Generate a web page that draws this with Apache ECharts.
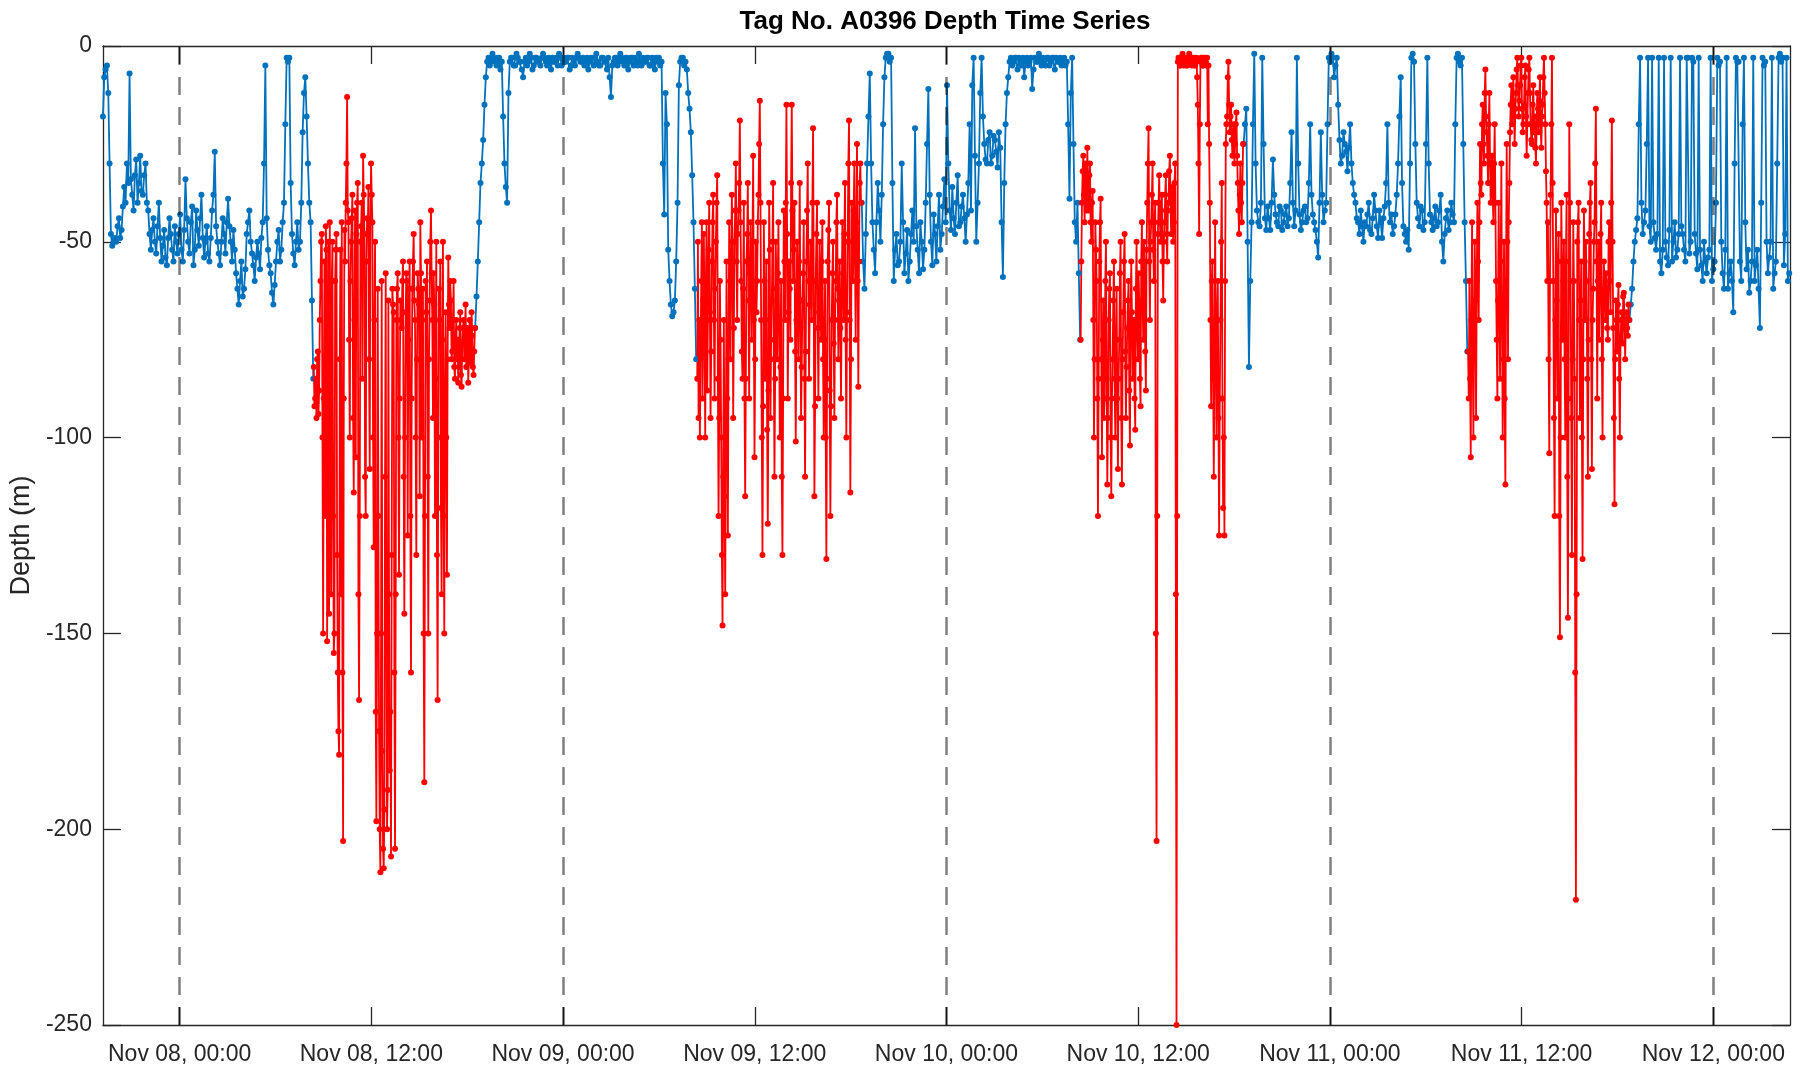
<!DOCTYPE html>
<html>
<head>
<meta charset="utf-8">
<script src="https://cdn.jsdelivr.net/npm/echarts@6/dist/echarts.min.js"></script>
<style>
html,body{margin:0;padding:0;background:#fff;}
#chart{width:1804px;height:1066px;}
</style>
</head>
<body>
<div id="chart"></div>
<script>
// ---------- DATA (depth in metres) ----------
// Time is measured in hours from Nov 08 00:00.
const titleText = 'Tag No. A0396 Depth Time Series';
const xTickHours = [0, 12, 24, 36, 48, 60, 72, 84, 96];   // Nov 08 00:00 ... Nov 12 00:00
const dayLineHours = [0, 24, 48, 72, 96];                 // dashed midnight lines
const axisStartHour = -4.8;
const axisEndHour = 100.8;

// Blue (other periods), sampled every 5 min
const blueA = [-18,-8,-6,-5,-12,-30,-48,-51,-50,-49,-50,-46,-44,-49,-47,-41,-36,-40,-30,-35,
 -7,-34,-38,-42,-33,-29,-40,-35,-28,-37,-38,-33,-30,-40,-42,-48,-52,-47,-44,-50,
 -53,-46,-40,-49,-55,-51,-47,-54,-56,-49,-44,-48,-52,-55,-46,-50,-53,-48,-43,-52,
 -55,-47,-34,-44,-50,-53,-45,-41,-56,-52,-42,-47,-51,-44,-38,-49,-54,-50,-46,-53,
 -55,-49,-42,-38,-27,-46,-50,-53,-56,-50,-44,-48,-53,-45,-39,-46,-50,-55,-47,-52,
 -58,-62,-66,-60,-55,-64,-62,-57,-48,-45,-42,-50,-53,-56,-60,-54,-50,-53,-57,-49,
 -45,-30,-5,-44,-52,-56,-58,-63,-66,-61,-55,-50,-47,-55,-52,-45,-40,-20,-3,-4,
 -3,-35,-48,-53,-56,-50,-45,-52,-50,-40,-22,-12,-8,-18,-30,-40,-45,-65,-85];
const blueB = [-72,-64,-55,-45,-35,-30,-24,-15,-8,-4,-3,-5,-4,-2,-3,-4,-5,-3,-3,-6,
 -4,-18,-30,-36,-40,-12,-4,-3,-3,-5,-5,-2,-3,-4,-4,-6,-8,-4,-3,-5,
 -4,-2,-3,-6,-5,-3,-3,-4,-4,-5,-3,-2,-3,-4,-5,-3,-4,-6,-3,-4,
 -4,-3,-5,-2,-3,-5,-3,-4,-4,-3,-3,-6,-5,-3,-4,-5,-3,-2,-3,-4,
 -4,-3,-5,-4,-3,-6,-4,-3,-3,-5,-3,-2,-4,-5,-5,-3,-3,-4,-4,-6,
 -3,-8,-13,-5,-4,-3,-3,-5,-4,-2,-3,-4,-5,-3,-3,-6,-4,-3,-3,-5,
 -3,-4,-5,-2,-4,-5,-3,-4,-4,-3,-3,-5,-5,-3,-4,-6,-3,-4,-3,-5,
 -4,-30,-43,-12,-20,-52,-60,-66,-69,-68,-65,-55,-40,-10,-4,-3,-3,-5,-4,-6,
 -12,-16,-22,-33,-45,-62,-80];
const blueC = [-40,-55,-62,-48,-30,-18,-7,-30,-45,-52,-58,-45,-35,-42,-50,-38,-20,-8,-3,-2,
 -2,-4,-3,-35,-60,-52,-48,-56,-55,-50,-30,-45,-58,-53,-47,-60,-55,-48,-42,-50,
 -21,-46,-52,-58,-45,-50,-57,-52,-40,-25,-11,-38,-50,-56,-43,-48,-55,-46,-38,-52,
 -48,-41,-34,-45,-10,-30,-42,-47,-36,-44,-48,-40,-33,-46,-45,-41,-38,-44,-50,-43,
 -35,-20,-42,-10,-3,-28,-50,-40,-30,-12,-3,-18,-25,-29,-30,-24,-22,-30,-28,-23,
 -24,-27,-31,-22,-26,-45,-59,-35,-20,-12,-8,-4,-3,-5,-4,-3,-3,-6,-3,-4,
 -5,-3,-8,-4,-3,-5,-4,-3,-11,-6,-3,-4,-4,-2,-3,-5,-3,-4,-5,-3,
 -3,-5,-4,-3,-3,-6,-3,-4,-4,-3,-5,-4,-3,-5,-4,-20,-39,-12,-3,-25,
 -45,-50,-40,-58,-75];
const blueD = [-25,-20,-16,-50,-82,-60,-45,-20,-2,-30,-42,-45,-46,-40,-3,-25,-44,-47,-41,-44,
 -47,-40,-29,-38,-43,-45,-46,-41,-42,-47,-45,-43,-41,-46,-44,-35,-22,-40,-46,-42,
 -3,-30,-43,-47,-45,-42,-41,-45,-44,-35,-20,-38,-43,-45,-47,-50,-54,-40,-22,-38,
 -45,-42,-40,-20,-3,-4,-2,-3,-8,-5,-3,-15,-24,-30,-28,-22,-25,-27,-32,-26,
 -20,-30,-35,-38,-40,-44,-45,-48,-42,-46,-50,-45,-46,-43,-40,-47,-48,-44,-38,-42,
 -46,-49,-42,-45,-49,-44,-41,-35,-20,-40,-45,-43,-48,-46,-43,-38,-30,-18,-8,-35,
 -46,-48,-50,-47,-52,-30,-3,-2,-4,-25,-40,-44,-46,-41,-42,-47,-45,-25,-3,-30,
 -43,-45,-47,-44,-41,-46,-45,-42,-38,-50,-55,-48,-44,-42,-47,-45,-40,-43,-45,-20,
 -3,-2,-4,-5,-3,-25,-45,-60,-78];
const blueE = [-70,-66,-62,-55,-50,-47,-44,-20,-3,-40,-48,-45,-42,-25,-3,-46,-50,-3,-45,-49,
 -52,-48,-3,-55,-58,-52,-3,-50,-54,-56,-47,-3,-55,-50,-45,-54,-52,-48,-3,-46,
 -48,-52,-55,-3,-3,-53,-50,-3,-4,-48,-53,-57,-3,-52,-56,-60,-50,-55,-58,-54,
 -52,-3,-60,-57,-55,-40,-3,-5,-4,-50,-58,-62,-52,-3,-62,-58,-55,-60,-68,-30,
 -3,-4,-4,-55,-60,-20,-3,-45,-57,-52,-63,-60,-55,-3,-60,-56,-52,-62,-72,-40,
 -3,-5,-4,-50,-58,-54,-50,-3,-62,-58,-55,-30,-3,-2,-4,-3,-56,-48,-3,-60,
 -58];

// Red (highlighted periods), sampled every 2.5 min
const redA = [-82,-92,-90,-85,-95,-80,-78,-94,-88,-70,-60,-50,-48,-100,-150,-90,-55,-120,-46,-52,-152,-110,-50,-145,
 -45,-90,-140,-60,-50,-120,-155,-150,-60,-52,-48,-130,-160,-175,-181,-80,-52,-140,-45,-160,-203,-90,-47,-55,
 -40,-30,-13,-42,-45,-75,-100,-60,-50,-44,-38,-95,-114,-70,-42,-105,-48,-40,-35,-140,-167,-120,-50,-46,
 -40,-85,-28,-38,-48,-110,-120,-55,-44,-48,-36,-80,-108,-45,-30,-38,-45,-100,-128,-70,-50,-170,-198,-150,
 -62,-120,-175,-200,-211,-150,-60,-180,-205,-210,-195,-110,-58,-150,-200,-190,-65,-140,-185,-170,-207,-130,-62,-66,
 -68,-160,-205,-140,-70,-62,-58,-100,-135,-90,-65,-70,-72,-60,-55,-110,-145,-100,-68,-58,-60,-125,-75,-62,
 -55,-120,-160,-90,-62,-55,-48,-65,-70,-100,-130,-80,-58,-62,-66,-115,-45,-58,-100,-70,-62,-150,-188,-120,
 -60,-68,-55,-110,-150,-80,-65,-50,-42,-58,-70,-95,-58,-66,-120,-85,-50,-130,-167,-100,-62,-70,-55,-118,
 -140,-75,-50,-120,-150,-90,-68,-100,-135,-80,-54,-66,-72,-60,-65,-80,-78,-70,-60,-82,-85,-75,-70,-80,
 -75,-86,-82,-72,-68,-84,-87,-76,-72,-70,-80,-74,-66,-82,-78,-72,-86,-80,-70,-79,-81,-68,-74,-82,
 -84,-78,-72];
const redB = [-85,-50,-95,-70,-100,-80,-60,-45,-90,-65,-48,-75,-100,-60,-45,-88,-70,-52,-40,-68,-95,-78,-55,-45,
 -38,-70,-90,-62,-50,-40,-33,-85,-120,-95,-60,-75,-100,-130,-148,-110,-70,-115,-140,-100,-55,-90,-125,-80,
 -45,-60,-80,-55,-38,-50,-95,-72,-50,-42,-30,-55,-70,-48,-42,-35,-19,-45,-60,-78,-85,-62,-40,-90,
 -115,-85,-55,-48,-35,-65,-90,-58,-45,-62,-75,-50,-28,-70,-105,-80,-50,-68,-60,-45,-38,-25,-14,-40,
 -70,-100,-130,-92,-45,-60,-85,-70,-55,-98,-122,-88,-40,-52,-95,-75,-65,-50,-35,-80,-110,-85,-50,-62,
 -80,-58,-45,-72,-100,-82,-60,-110,-130,-90,-42,-55,-70,-40,-15,-48,-90,-68,-55,-62,-75,-35,-15,-42,
 -60,-52,-40,-78,-101,-70,-50,-64,-80,-55,-35,-72,-95,-82,-65,-58,-45,-85,-110,-78,-55,-42,-30,-60,
 -85,-66,-50,-58,-70,-40,-21,-60,-115,-92,-60,-48,-40,-72,-90,-68,-50,-62,-75,-55,-45,-80,-100,-75,
 -60,-100,-131,-85,-55,-47,-40,-88,-120,-92,-70,-58,-50,-76,-95,-70,-60,-45,-38,-62,-80,-65,-55,-72,
 -90,-66,-45,-58,-70,-48,-35,-75,-100,-68,-50,-30,-19,-70,-114,-80,-40,-50,-60,-42,-30,-55,-75,-45,
 -25,-60,-87,-55,-35,-30,-40];
const redC = [-75,-55,-40,-32,-28,-38,-45,-30,-35,-42,-26,-36,-42,-33,-30,-45,-50,-40,-37,-70,-100,-80,-45,-52,
 -60,-90,-120,-85,-55,-45,-39,-80,-105,-75,-65,-95,-90,-60,-50,-85,-112,-95,-70,-62,-58,-100,-115,-90,
 -80,-65,-55,-85,-100,-75,-62,-90,-108,-85,-75,-58,-50,-95,-112,-80,-68,-55,-48,-78,-95,-82,-72,-65,
 -60,-88,-102,-70,-55,-68,-85,-75,-70,-90,-98,-62,-50,-72,-80,-58,-65,-85,-92,-55,-45,-65,-75,-50,
 -55,-78,-88,-52,-40,-30,-21,-55,-70,-50,-45,-38,-30,-52,-60,-45,-40,-150,-203,-120,-48,-40,-33,-45,
 -50,-42,-38,-55,-65,-50,-45,-38,-33,-48,-55,-42,-40,-32,-28,-40,-48,-38,-36,-50,-45,-35,-30,-140,
 -250,-120,-4,-3,-3,-5,-5,-4,-3,-2,-4,-5,-3,-4,-3,-5,-5,-3,-4,-2,-3,-4,-3,-5,
 -4,-3,-3,-5,-5,-4,-3,-8,-15,-30,-48,-20,-4,-3,-3,-5,-5,-3,-3,-4,-4,-5,-3,-20,
 -5,-25,-40,-70,-92,-60,-55,-85,-110,-80,-45,-75,-100,-70,-60,-95,-125,-90,-70,-50,-35,-90,-118,-100,
 -125,-60,-25,-20,-18,-8,-4,-15,-22,-18,-15,-24,-28,-22,-20,-30,-25,-20,-17,-28,-35,-42,-48,-38,
 -30,-40,-45,-35,-25];
const redD = [-78,-90,-60,-85,-105,-70,-45,-80,-100,-75,-50,-65,-95,-60,-40,-55,-70,-45,-25,-35,-38,-20,-15,-25,
 -30,-12,-6,-18,-22,-28,-35,-20,-12,-30,-40,-35,-28,-38,-45,-30,-20,-40,-60,-75,-90,-65,-40,-60,
 -85,-55,-30,-70,-100,-80,-50,-90,-112,-60,-25,-50,-80,-45,-35,-22,-15,-10,-20,-14,-8,-18,-25,-16,
 -12,-6,-3,-10,-18,-14,-10,-5,-3,-16,-22,-20,-15,-8,-5,-18,-28,-20,-12,-6,-3,-12,-20,-24,
 -25,-15,-10,-22,-18,-26,-30,-20,-12,-16,-22,-14,-8,-20,-26,-18,-15,-8,-3,-12,-20,-32,-40,-60,
 -45,-80,-104,-60,-38,-20,-3,-35,-60,-95,-120,-70,-42,-65,-90,-55,-48,-120,-151,-100,-40,-55,-75,-60,
 -50,-80,-100,-55,-38,-110,-146,-90,-20,-40,-60,-95,-130,-80,-45,-60,-85,-160,-218,-140,-50,-45,-40,-70,
 -95,-65,-55,-100,-131,-80,-42,-55,-70,-50,-60,-85,-110,-75,-48,-40,-35,-80,-108,-70,-62,-50,-45,-30,
 -16,-55,-90,-60,-50,-75,-65,-48,-40,-80,-100,-65,-55,-62,-70,-58,-62,-72,-75,-50,-45,-60,-68,-40,
 -19,-50,-72,-95,-117,-80,-65,-70,-78,-66,-61,-85,-100,-75,-70,-68,-76,-64,-63,-72,-80,-70,-68,-72,
 -74,-66,-70];

// segment start (hours from Nov 08 00:00) and sampling step (minutes)
const blueStarts = [-4.8, 18.5, 42.7, 66.6, 90.75];
const redStarts  = [8.4, 32.4, 56.4, 80.65];
const blueStepMin = 5;
const redStepMin = 2.5;

// ---------- BUILD ----------
const HOUR = 3600 * 1000;
const T0 = Date.UTC(2019, 10, 8, 0, 0, 0);
function seg(startHour, stepMin, vals) {
  return vals.map((v, i) => [startHour + i * stepMin / 60, v]);
}
const BLUE = '#0072BD', RED = '#FF0000';
const FONT = '"Liberation Sans", Arial, Helvetica, sans-serif';
const AX = '#262626';

function lineSeries(data, color) {
  return {
    type: 'line', data: data, xAxisIndex: 0, yAxisIndex: 0,
    symbol: 'circle', symbolSize: 6, showSymbol: true, showAllSymbol: true,
    lineStyle: { width: 1.8, color: color },
    itemStyle: { color: color },
    silent: true, animation: false, z: 2
  };
}
const series = [];
[blueA, blueB, blueC, blueD, blueE].forEach((v, k) => series.push(lineSeries(seg(blueStarts[k], blueStepMin, v), BLUE)));
[redA, redB, redC, redD].forEach((v, k) => series.push(lineSeries(seg(redStarts[k], redStepMin, v), RED)));
series.push({
  type: 'line', data: [], xAxisIndex: 0, yAxisIndex: 0, silent: true, animation: false, z: 5,
  markLine: {
    silent: true, symbol: ['none', 'none'], animation: false,
    label: { show: false },
    lineStyle: { color: 'rgba(0,0,0,0.5)', type: [18, 12], width: 2.5 },
    data: dayLineHours.map(h => ({ xAxis: h }))
  }
});

const MON = ['Jan','Feb','Mar','Apr','May','Jun','Jul','Aug','Sep','Oct','Nov','Dec'];
const p2 = n => (n < 10 ? '0' : '') + n;
function fmt(h) {
  const d = new Date(T0 + Math.round(h * 60) * 60000);
  return MON[d.getUTCMonth()] + ' ' + p2(d.getUTCDate()) + ', ' + p2(d.getUTCHours()) + ':' + p2(d.getUTCMinutes());
}

const option = {
  backgroundColor: '#fff',
  animation: false,
  grid: { left: 100, right: 14, top: 46, bottom: 41, containLabel: false },
  graphic: [{
    type: 'text', x: 945, y: 9, silent: true,
    style: { text: titleText, align: 'center', verticalAlign: 'top', textAlign: 'center', textVerticalAlign: 'top',
             fontSize: 26, fontWeight: 'bold', fontFamily: FONT, fill: '#000' }
  }],
  xAxis: [{
    type: 'value', min: axisStartHour, max: axisEndHour, position: 'bottom',
    axisLine: { show: true, onZero: false, lineStyle: { color: AX, width: 1.3 } },
    axisTick: { show: true, inside: true, length: 18, customValues: xTickHours, lineStyle: { color: AX, width: 1.3 } },
    axisLabel: { show: true, customValues: xTickHours, formatter: fmt, fontSize: 23, color: AX, fontFamily: FONT, margin: 18 },
    splitLine: { show: false }
  }, {
    type: 'value', min: axisStartHour, max: axisEndHour, position: 'top',
    axisLine: { show: true, onZero: false, lineStyle: { color: AX, width: 1.3 } },
    axisTick: { show: true, inside: true, length: 18, customValues: xTickHours, lineStyle: { color: AX, width: 1.3 } },
    axisLabel: { show: false },
    splitLine: { show: false }
  }],
  yAxis: [{
    type: 'value', min: -250, max: 0, interval: 50, position: 'left',
    name: 'Depth (m)', nameLocation: 'middle', nameGap: 62, nameRotate: 90,
    nameTextStyle: { fontSize: 27, color: AX, fontFamily: FONT },
    axisLine: { show: true, onZero: false, lineStyle: { color: AX, width: 1.3 } },
    axisTick: { show: true, inside: true, length: 18, lineStyle: { color: AX, width: 1.3 } },
    axisLabel: { show: true, fontSize: 23, color: AX, fontFamily: FONT, margin: 11 },
    splitLine: { show: false }
  }, {
    type: 'value', min: -250, max: 0, interval: 50, position: 'right',
    axisLine: { show: true, onZero: false, lineStyle: { color: AX, width: 1.3 } },
    axisTick: { show: true, inside: true, length: 18, lineStyle: { color: AX, width: 1.3 } },
    axisLabel: { show: false },
    splitLine: { show: false }
  }],
  series: series
};

const chart = echarts.init(document.getElementById('chart'), null, { renderer: 'canvas' });
chart.setOption(option);
</script>
</body>
</html>
